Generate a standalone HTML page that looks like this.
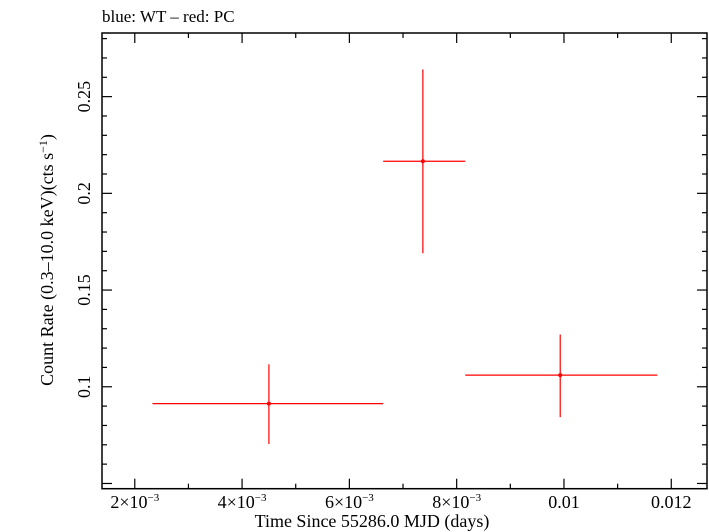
<!DOCTYPE html>
<html><head><meta charset="utf-8"><style>
body{margin:0;background:#fff}
svg{display:block;font-family:"Liberation Serif",serif}
</style></head><body>
<svg id="chart" width="709" height="532" viewBox="0 0 709 532">
<text x="102" y="22" font-size="17">blue: WT – red: PC</text>
<g id="axes"></g>
<g id="marks"></g>
<text x="372" y="527" font-size="18" text-anchor="middle">Time Since 55286.0 MJD (days)</text>
<text transform="translate(53,260) rotate(-90)" font-size="18" text-anchor="middle">Count Rate (0.3–10.0 keV)(cts s<tspan dy="-6" font-size="12">−1</tspan><tspan dy="6">)</tspan></text>
</svg>
<script>
const times=[0.0045,0.00737,0.00993];
const timeLo=[0.00233,0.00663,0.00816];
const timeHi=[0.00663,0.00816,0.01174];
const rates=[0.0913,0.2166,0.106];
const rateLo=[0.0704,0.169,0.0843];
const rateHi=[0.1116,0.264,0.127];
const xTickVals=[0.002,0.004,0.006,0.008,0.01,0.012];
const xTickLabels=["2×10<tspan dy='-7' font-size='11'>−3</tspan>","4×10<tspan dy='-7' font-size='11'>−3</tspan>","6×10<tspan dy='-7' font-size='11'>−3</tspan>","8×10<tspan dy='-7' font-size='11'>−3</tspan>","0.01","0.012"];
const yTickVals=[0.1,0.15,0.2,0.25];
const yTickLabels=["0.1","0.15","0.2","0.25"];
const L=102,R=707,T=33,B=488.7;
const X0=0.001389,X1=0.012666,Y0=0.0473,Y1=0.2829;
const sx=v=>L+(v-X0)/(X1-X0)*(R-L);
const sy=v=>B-(v-Y0)/(Y1-Y0)*(B-T);
const NS="http://www.w3.org/2000/svg";
const ax=document.getElementById('axes'),mk=document.getElementById('marks');
function ln(p,x1,y1,x2,y2,c,w){const e=document.createElementNS(NS,'line');e.setAttribute('x1',x1);e.setAttribute('y1',y1);e.setAttribute('x2',x2);e.setAttribute('y2',y2);e.setAttribute('stroke',c);e.setAttribute('stroke-width',w);p.appendChild(e);return e;}
const fr=document.createElementNS(NS,'rect');


fr.setAttribute('x',L);fr.setAttribute('y',T);fr.setAttribute('width',R-L);fr.setAttribute('height',B-T);fr.setAttribute('fill','none');fr.setAttribute('stroke','#000');fr.setAttribute('stroke-width','1.5');ax.appendChild(fr);
for(let i=1;i<=12;i++){const v=i*0.001;if(v<X0||v>X1)continue;const x=sx(v);const len=(i%2==0)?10:5;
const t1=ln(ax,x,B,x,B-len,'#000',1.2);
const t2=ln(ax,x,T,x,T+len,'#000',1.2);}
for(let i=5;i<=28;i++){const v=i*0.01;if(v<Y0||v>Y1)continue;const y=sy(v);const len=(i%5==0)?10:5;
const t1=ln(ax,L,y,L+len,y,'#000',1.2);
const t2=ln(ax,R,y,R-len,y,'#000',1.2);}
xTickVals.forEach((v,i)=>{const t=document.createElementNS(NS,'text');


t.setAttribute('x',sx(v));t.setAttribute('y',508);t.setAttribute('font-size','18');t.setAttribute('text-anchor','middle');t.innerHTML=xTickLabels[i];ax.appendChild(t);});
yTickVals.forEach((v,i)=>{const t=document.createElementNS(NS,'text');


t.setAttribute('transform',`translate(90,${sy(v)}) rotate(-90)`);t.setAttribute('font-size','18');t.setAttribute('text-anchor','middle');t.textContent=yTickLabels[i];ax.appendChild(t);});
times.forEach((v,i)=>{
const h=ln(mk,sx(timeLo[i]),sy(rates[i]),sx(timeHi[i]),sy(rates[i]),'#f00',1.2);


const e=ln(mk,sx(v),sy(rateLo[i]),sx(v),sy(rateHi[i]),'#f00',1.2);


const c=document.createElementNS(NS,'circle');


c.setAttribute('cx',sx(v));c.setAttribute('cy',sy(rates[i]));c.setAttribute('r',2);c.setAttribute('fill','#f00');mk.appendChild(c);});
</script>
</body></html>
